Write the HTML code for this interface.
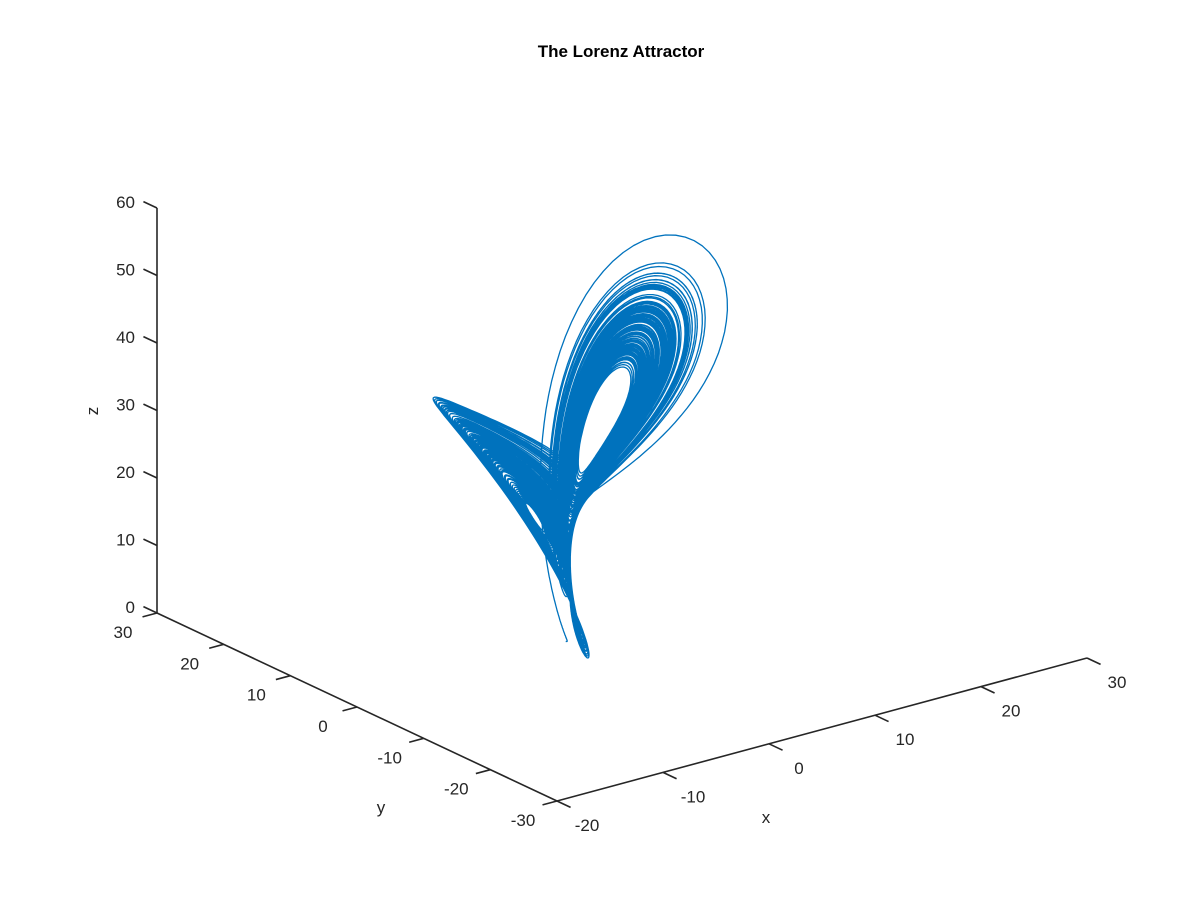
<!DOCTYPE html>
<html><head><meta charset="utf-8"><style>
body{margin:0;background:#fff}
svg text{font-family:"Liberation Sans",sans-serif;fill:#262626}
</style></head><body>
<svg id="chart" width="1200" height="900" viewBox="0 0 1200 900" xmlns="http://www.w3.org/2000/svg">
<rect width="1200" height="900" fill="#fff"/>
<text x="621" y="57" font-size="17" font-weight="bold" text-anchor="middle" style="fill:#000">The Lorenz Attractor</text>
<g id="axes"></g>
<path id="trace" fill="none" stroke="#0072BD" stroke-width="1.3" stroke-linejoin="round"/>
</svg>
<script>
const params = [10, 28, 8/3];       // sigma, rho, beta
const initState = [0, 0.5, 1];
const timeSpan = [0, 160];
const xTicks = [-20, -10, 0, 10, 20, 30];
const yTicks = [-30, -20, -10, 0, 10, 20, 30];
const zTicks = [0, 10, 20, 30, 40, 50, 60];
const xRange = [-20, 30], yRange = [-30, 30], zRange = [0, 60];

const O = [557, 801], EX = [530, -143], EY = [-400, -188], EZ = [0, -405];
function proj(x, y, z) {
  const fx = (x - xRange[0]) / (xRange[1] - xRange[0]);
  const fy = (y - yRange[0]) / (yRange[1] - yRange[0]);
  const fz = (z - zRange[0]) / (zRange[1] - zRange[0]);
  return [O[0] + fx*EX[0] + fy*EY[0] + fz*EZ[0], O[1] + fx*EX[1] + fy*EY[1] + fz*EZ[1]];
}
const NS = "http://www.w3.org/2000/svg";
const axes = document.getElementById('axes');
function line(a, b, name) {
  const l = document.createElementNS(NS, 'line');
  l.setAttribute('x1', a[0]); l.setAttribute('y1', a[1]);
  l.setAttribute('x2', b[0]); l.setAttribute('y2', b[1]);
  l.setAttribute('stroke', '#262626'); l.setAttribute('stroke-width', '1.6');
  
  
  axes.appendChild(l);
}
function text(p, s, name, anchor, rot) {
  const t = document.createElementNS(NS, 'text');
  t.setAttribute('x', p[0]); t.setAttribute('y', p[1]);
  t.setAttribute('font-size', '17');
  t.setAttribute('text-anchor', anchor || 'middle');
  if (rot) t.setAttribute('transform', 'rotate(' + rot + ' ' + p[0] + ' ' + p[1] + ')');
  t.textContent = s;
  
  
  axes.appendChild(t);
}
function unit(v){const n=Math.hypot(v[0],v[1]);return [v[0]/n,v[1]/n];}
const uX = unit(EX), uY = unit(EY);
const TL = 15;
line(proj(xRange[0], yRange[0], 0), proj(xRange[1], yRange[0], 0), 'x-axis-line');
line(proj(xRange[0], yRange[0], 0), proj(xRange[0], yRange[1], 0), 'y-axis-line');
line(proj(xRange[0], yRange[1], 0), proj(xRange[0], yRange[1], zRange[1]), 'z-axis-line');
xTicks.forEach(v => {
  const p = proj(v, yRange[0], 0);
  line(p, [p[0] - uY[0]*TL, p[1] - uY[1]*TL], 'x-tick');
  text([p[0] + 30, p[1] + 30], String(v), 'x-tick-label');
});
yTicks.forEach(v => {
  const p = proj(xRange[0], v, 0);
  line(p, [p[0] - uX[0]*TL, p[1] - uX[1]*TL], 'y-tick');
  text([p[0] - 34, p[1] + 25], String(v), 'y-tick-label');
});
zTicks.forEach(v => {
  const p = proj(xRange[0], yRange[1], v);
  line(p, [p[0] + uY[0]*TL, p[1] + uY[1]*TL], 'z-tick');
  text([p[0] - 22, p[1] + 0], String(v), 'z-tick-label', 'end');
});
text([766, 823], 'x', 'x-axis-title');
text([381, 813], 'y', 'y-axis-title');
text([98, 411], 'z', 'z-axis-title', 'middle', -90);

const [s, r, b] = params;
function f(u){return [s*(u[1]-u[0]), u[0]*(r-u[2])-u[1], u[0]*u[1]-b*u[2]];}
let u = initState.slice();
const dt = 0.005, steps = Math.round((timeSpan[1]-timeSpan[0])/dt);
let p0 = proj(u[0], u[1], u[2]);
const parts = ['M' + p0[0].toFixed(1) + ' ' + p0[1].toFixed(1)];
for (let i = 0; i < steps; i++) {
  const k1 = f(u);
  const k2 = f(u.map((v,j)=>v+dt/2*k1[j]));
  const k3 = f(u.map((v,j)=>v+dt/2*k2[j]));
  const k4 = f(u.map((v,j)=>v+dt*k3[j]));
  u = u.map((v,j)=>v+dt/6*(k1[j]+2*k2[j]+2*k3[j]+k4[j]));
  const p = proj(u[0], u[1], u[2]);
  parts.push('L' + p[0].toFixed(1) + ' ' + p[1].toFixed(1));
}
document.getElementById('trace').setAttribute('d', parts.join(''));
</script>
</body></html>
